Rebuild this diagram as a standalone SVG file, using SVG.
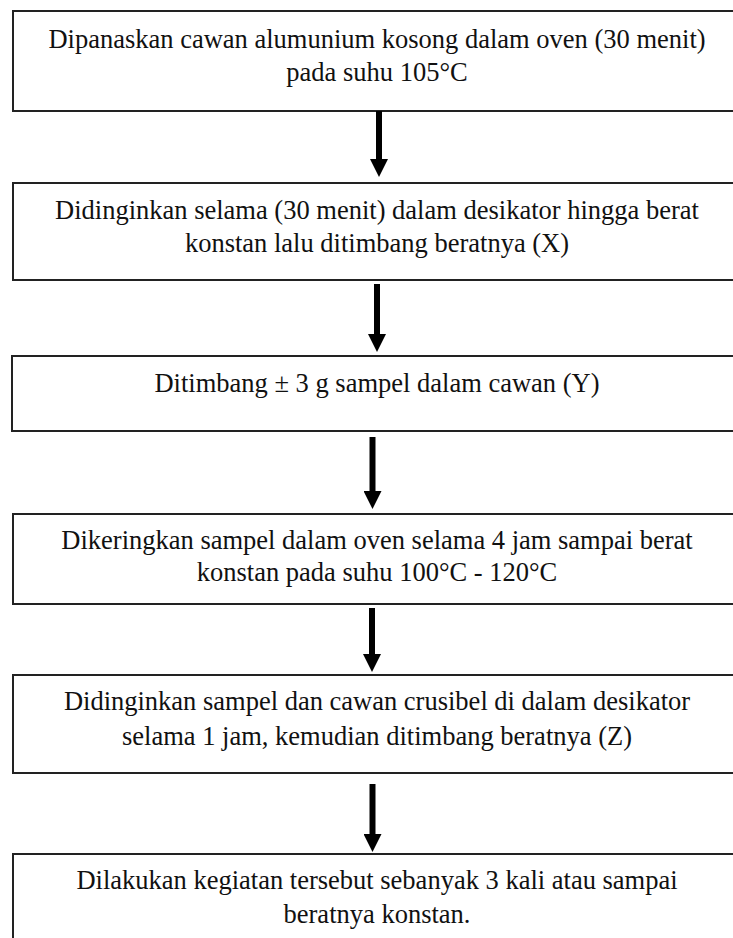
<svg xmlns="http://www.w3.org/2000/svg" width="733" height="938" viewBox="0 0 733 938">
<style>
.box{fill:#fff;stroke:#222;stroke-width:2}
.t{font-family:'Liberation Serif','Times New Roman',serif;font-size:26.5px;fill:#111;text-anchor:middle}
.arr{stroke:#000;stroke-width:6;fill:none;marker-end:url(#ah)}
</style>
<defs>
<marker id="ah" viewBox="0 0 18 18" markerWidth="18" markerHeight="18" markerUnits="userSpaceOnUse" refX="6" refY="9" orient="auto">
<path d="M0,0 L18,9 L0,18 z" fill="#000"/>
</marker>
</defs>
<rect width="733" height="938" fill="#fff"/>
<g id="n1"><rect class="box" x="13" y="11" width="740" height="100"/>
<text class="t" x="377" y="47.5">Dipanaskan cawan alumunium kosong dalam oven (30 menit)</text>
<text class="t" x="377" y="81">pada suhu 105°C</text></g>
<g id="n2"><rect class="box" x="13" y="183" width="740" height="97"/>
<text class="t" x="377" y="219">Didinginkan selama (30 menit) dalam desikator hingga berat</text>
<text class="t" x="377" y="252">konstan lalu ditimbang beratnya (X)</text></g>
<g id="n3"><rect class="box" x="12" y="356" width="740" height="75"/>
<text class="t" x="377" y="392">Ditimbang ± 3 g sampel dalam cawan (Y)</text></g>
<g id="n4"><rect class="box" x="13" y="514" width="740" height="90"/>
<text class="t" x="377" y="549">Dikeringkan sampel dalam oven selama 4 jam sampai berat</text>
<text class="t" x="377" y="581">konstan pada suhu 100°C - 120°C</text></g>
<g id="n5"><rect class="box" x="13" y="675" width="740" height="98"/>
<text class="t" x="377" y="710">Didinginkan sampel dan cawan crusibel di dalam desikator</text>
<text class="t" x="377" y="745">selama 1 jam, kemudian ditimbang beratnya (Z)</text></g>
<g id="n6"><rect class="box" x="13" y="854" width="740" height="100"/>
<text class="t" x="377" y="888.5">Dilakukan kegiatan tersebut sebanyak 3 kali atau sampai</text>
<text class="t" x="377" y="923">beratnya konstan.</text></g>
<g id="connectors">
<line class="arr" x1="379" y1="111" x2="379" y2="165"/>
<line class="arr" x1="377" y1="284" x2="377" y2="340"/>
<line class="arr" x1="372.5" y1="437" x2="372.5" y2="497"/>
<line class="arr" x1="372" y1="608" x2="372" y2="660"/>
<line class="arr" x1="372.5" y1="784" x2="372.5" y2="840"/>
</g>
</svg>
